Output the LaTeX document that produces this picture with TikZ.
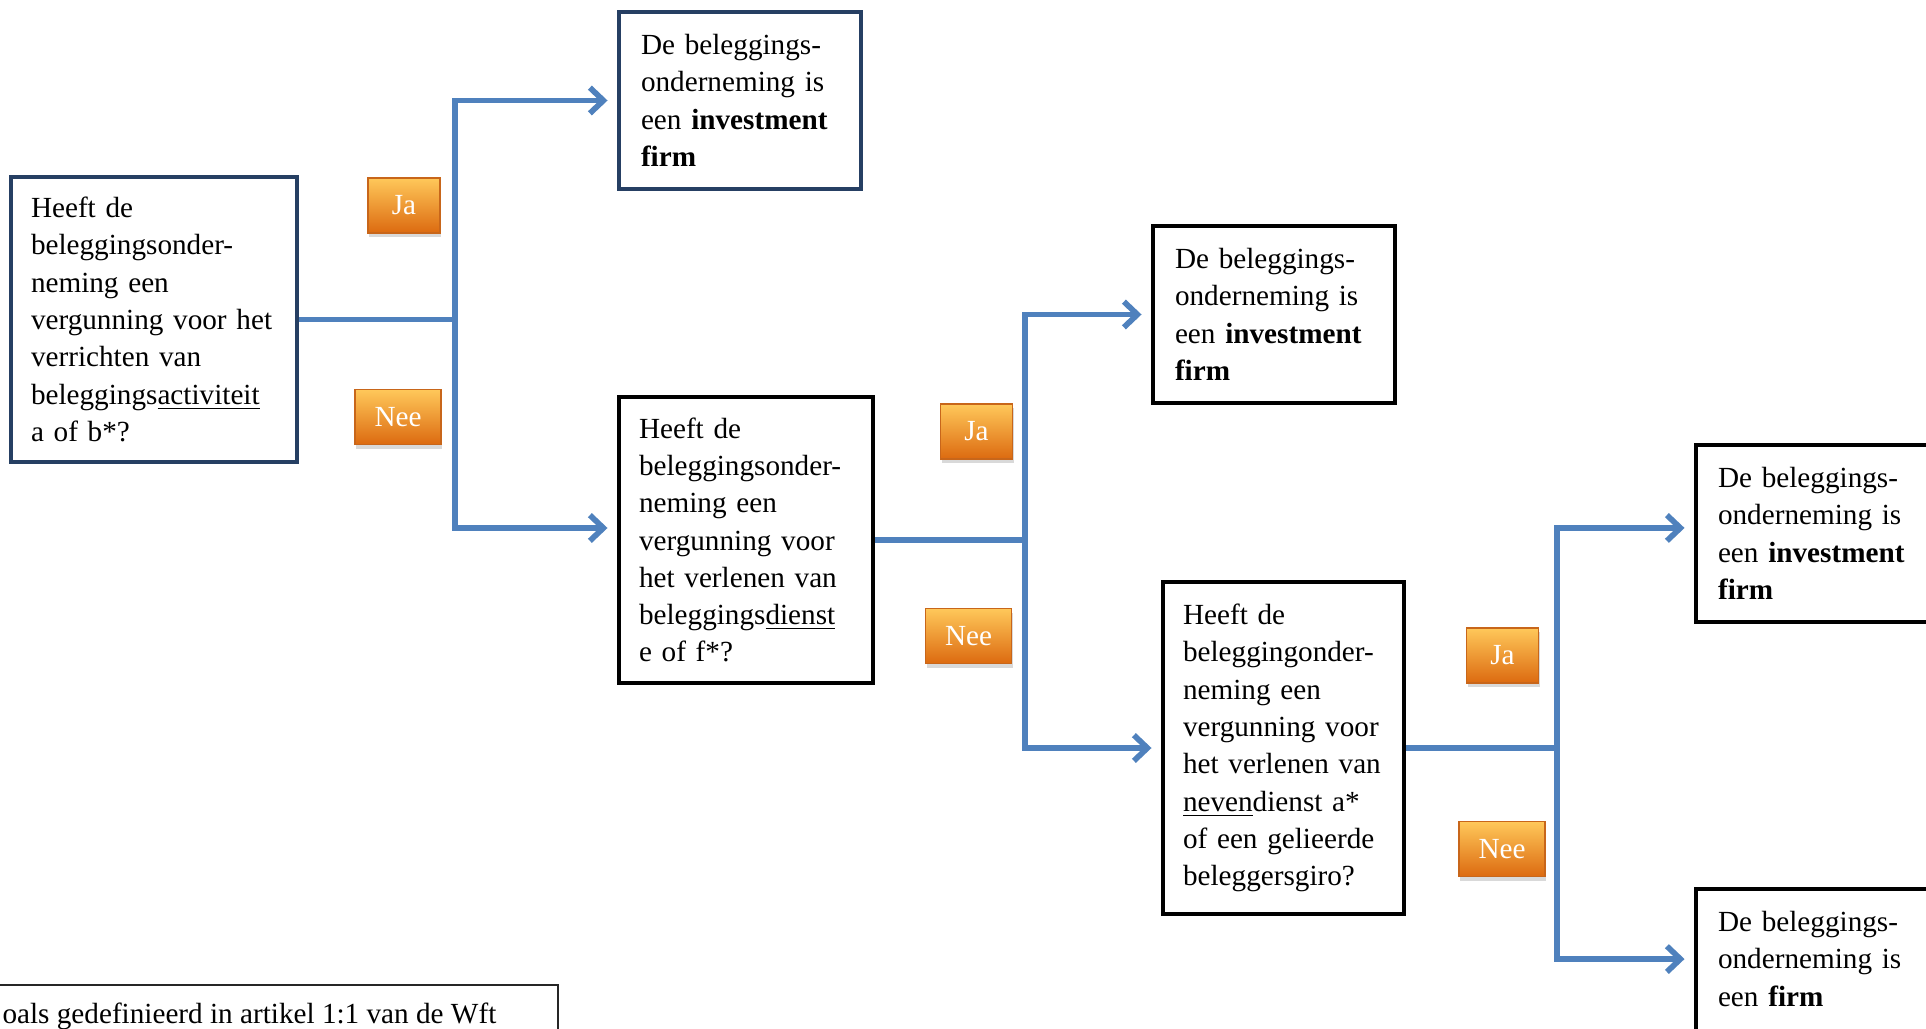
\documentclass[tikz,border=0pt]{standalone}
\usepackage{fontspec}
\setmainfont{Liberation Serif}
\usepackage{xcolor}
\usepackage{tikz}
\usetikzlibrary{arrows.meta, positioning, calc, shadows}
\definecolor{boxnavy}{HTML}{263F63}
\definecolor{linkblue}{HTML}{4F81BD}
\definecolor{ansTop}{HTML}{FFC85A}
\definecolor{ansMid}{HTML}{F7922E}
\definecolor{ansBot}{HTML}{DC6A10}
\definecolor{ansEdge}{HTML}{C8661A}
\newcommand{\qfont}{\fontsize{10.8pt}{13.8pt}\selectfont}
\tikzset{
  % Question / outcome boxes
  qbox/.style={rectangle, draw=black, line width=1.5pt, fill=white, align=left, text width=#1, inner xsep=0.26cm, inner ysep=0pt, font=\qfont},
  qbox/.default={2.574cm},
  rbox/.style={qbox=2.574cm, inner xsep=0.286cm, minimum height=2.301cm},
  % Ja / Nee labels
  answer/.style={rectangle, draw=ansEdge, line width=0.4pt, top color=ansTop, middle color=ansMid, bottom color=ansBot, text=white, font=\qfont, minimum width=#1, minimum height=0.715cm, inner sep=0pt, drop shadow={shadow xshift=0.4pt, shadow yshift=-1.6pt, opacity=0.3}},
  answer/.default={0.936cm},
  % Connectors
  feed/.style={draw=linkblue, line width=2.1pt},
  link/.style={feed, -{Straight Barb[length=5pt, width=9.5pt]}, shorten >=3.5pt},
}
\begin{document}
\begin{tikzpicture}[x=0.013cm, y=-0.013cm]
    \useasboundingbox (0,0) rectangle (1926,1029);
    \clip (0,0) rectangle (1926,1029);
    % Column positions
    \def\xR{1817}
    % First question
    \node[qbox=3.198cm, draw=boxnavy, minimum height=3.705cm] (qA) at (154,319.5) {Heeft de\\beleggingsonder-\\neming een\\vergunning voor het\\verrichten van\\beleggings\underline{activiteit}\\a of b*?};
    \node[rbox, draw=boxnavy] (rB) at (740,100.5) {De beleggings-\\onderneming is\\een \textbf{investment}\\\textbf{firm}};
    % Second question
    \node[qbox=2.782cm, minimum height=3.718cm] (qC) at (746,540) {Heeft de\\beleggingsonder-\\neming een\\vergunning voor\\het verlenen van\\beleggings\underline{dienst}\\e of f*?};
    \node[rbox] (rD) at (1274,314.5) {De beleggings-\\onderneming is\\een \textbf{investment}\\\textbf{firm}};
    % Third question
    \node[qbox=2.613cm, minimum height=4.316cm] (qE) at (1283.5,748) {Heeft de\\beleggingonder-\\neming een\\vergunning voor\\het verlenen van\\\underline{neven}dienst a*\\of een gelieerde\\beleggersgiro?};
    \node[rbox] (rF) at (\xR,533.5) {De beleggings-\\onderneming is\\een \textbf{investment}\\\textbf{firm}};
    \node[rbox] (rG) at (\xR,977.5) {De beleggings-\\onderneming is\\een \textbf{firm}\\\mbox{}};
    % Ja / Nee labels
    \node[answer] (ja1) at (404,205.5) {Ja};
    \node[answer=1.118cm] (nee1) at (398,417) {Nee};
    \node[answer] (ja2) at (976.5,431.5) {Ja};
    \node[answer=1.118cm] (nee2) at (968.5,636) {Nee};
    \node[answer] (ja3) at (1502.5,655.5) {Ja};
    \node[answer=1.118cm] (nee3) at (1502,849) {Nee};
    % Branch points
    \coordinate (j1) at ($(qA.east)+(156,0)$);
    \coordinate (j2) at ($(qC.east)+(150,0)$);
    \coordinate (j3) at ($(qE.east)+(151,0)$);
    \draw[feed] (qA.east) -- (j1);
    \draw[link] (j1) |- (rB.west);
    \draw[link] (j1) |- ([yshift=0.156cm]qC.west);
    \draw[feed] (qC.east) -- (j2);
    \draw[link] (j2) |- (rD.west);
    \draw[link] (j2) |- (qE.west);
    \draw[feed] (qE.east) -- (j3);
    \draw[link] (j3) |- ([yshift=0.072cm]rF.west);
    \draw[link] (j3) |- ([yshift=0.24cm]rG.west);
    % Footnote
    \draw[black!85, line width=0.6pt] (-5,985) rectangle (558,1070);
    \node[font=\qfont, anchor=base west, inner sep=0pt] (foot) at (2,1023) {oals gedefinieerd in artikel 1:1 van de Wft};
\end{tikzpicture}
\end{document}
